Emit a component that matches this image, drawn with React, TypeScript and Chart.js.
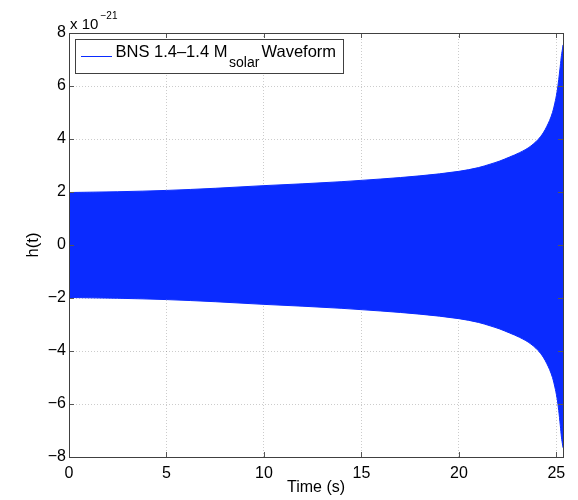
import { useEffect, useRef } from 'react';
import { Chart, registerables } from 'chart.js';

Chart.register(...registerables);

// Envelope of the inspiral strain (units of 1e-21) against time in seconds
const timeS = [0, 2.5, 5, 7.5, 10, 12, 14, 16, 18, 20, 21, 21.6, 22.1, 22.6, 23.1, 23.7, 24.2, 24.5, 24.8, 24.95, 25.05, 25.12, 25.2, 25.26, 25.32, 25.34];
const upperStrain = [1.98, 2.01, 2.06, 2.14, 2.24, 2.31, 2.39, 2.49, 2.61, 2.78, 2.92, 3.05, 3.17, 3.32, 3.48, 3.74, 4.1, 4.46, 5.0, 5.45, 5.85, 6.24, 6.75, 7.15, 7.43, 7.55];
const lowerStrain = [-1.98, -2.01, -2.06, -2.14, -2.24, -2.31, -2.39, -2.49, -2.61, -2.78, -2.92, -3.05, -3.17, -3.32, -3.48, -3.74, -4.1, -4.46, -5.0, -5.45, -5.85, -6.24, -6.8, -7.25, -7.55, -7.65];

const xTicks = [0, 5, 10, 15, 20, 25];
const yTicks = [-8, -6, -4, -2, 0, 2, 4, 6, 8];
const xMax = 25.34;

const WAVE_BLUE = '#0a2bff';
const FONT = '"Liberation Sans", Arial, Helvetica, sans-serif';

const framePlugin = {
  id: 'matlabFrame',
  afterDraw(chart: any) {
    const { ctx, chartArea } = chart;
    const { left, right, top, bottom } = chartArea;
    const xs = chart.scales.x;
    const ys = chart.scales.y;
    ctx.save();

    // inward tick marks on all four sides
    ctx.strokeStyle = '#555';
    ctx.lineWidth = 1;
    ctx.beginPath();
    for (const t of xTicks) {
      const px = Math.round(xs.getPixelForValue(t)) + 0.5;
      ctx.moveTo(px, bottom);
      ctx.lineTo(px, bottom - 5);
      ctx.moveTo(px, top);
      ctx.lineTo(px, top + 5);
    }
    for (const t of yTicks) {
      const py = Math.round(ys.getPixelForValue(t)) + 0.5;
      ctx.moveTo(left, py);
      ctx.lineTo(left + 5, py);
      ctx.moveTo(right, py);
      ctx.lineTo(right - 5, py);
    }
    ctx.stroke();

    // axes box
    ctx.strokeStyle = '#404040';
    ctx.strokeRect(Math.round(left) + 0.5, Math.round(top) + 0.5, Math.round(right - left), Math.round(bottom - top));

    // exponent label
    ctx.fillStyle = '#000';
    ctx.textBaseline = 'alphabetic';
    ctx.textAlign = 'left';
    ctx.font = `15px ${FONT}`;
    ctx.fillText('x 10', 70, 28.5);
    ctx.font = `10px ${FONT}`;
    ctx.fillText('\u221221', 100.5, 18.5);

    // legend
    ctx.fillStyle = '#fff';
    ctx.fillRect(75, 39, 268, 34);
    ctx.strokeStyle = '#404040';
    ctx.strokeRect(75.5, 39.5, 268, 34);
    ctx.strokeStyle = WAVE_BLUE;
    ctx.beginPath();
    ctx.moveTo(81, 56.5);
    ctx.lineTo(112, 56.5);
    ctx.stroke();
    ctx.fillStyle = '#000';
    ctx.font = `16.5px ${FONT}`;
    ctx.fillText('BNS 1.4\u20131.4 M', 115.5, 56.5);
    ctx.fillText('Waveform', 261.5, 56.5);
    ctx.font = `14px ${FONT}`;
    ctx.fillText('solar', 229, 66.5);

    // axis titles
    ctx.font = `16px ${FONT}`;
    ctx.textAlign = 'center';
    ctx.textBaseline = 'middle';
    ctx.fillText('Time (s)', (left + right) / 2, 488);
    ctx.save();
    ctx.translate(33, (top + bottom) / 2);
    ctx.rotate(-Math.PI / 2);
    ctx.font = `16.5px ${FONT}`;
    ctx.fillText('h(t)', 0, 0);
    ctx.restore();

    ctx.restore();
  },
};

export default function App() {
  const canvasRef = useRef<HTMLCanvasElement | null>(null);

  useEffect(() => {
    const canvas = canvasRef.current;
    if (!canvas) return;
    const upper = timeS.map((t, i) => ({ x: t, y: upperStrain[i] }));
    const lower = timeS.map((t, i) => ({ x: t, y: lowerStrain[i] }));
    const gridStyle = {
      color: 'rgba(0,0,0,0.2)',
      drawTicks: false,
      tickLength: 0,
    };
    // in Chart.js 4 the border dash applies to the grid lines
    const borderStyle = { display: true, color: '#404040', width: 1, dash: [1, 2] };
    const chart = new Chart(canvas, {
      type: 'line',
      data: {
        datasets: [
          {
            label: 'upper',
            data: upper,
            borderColor: WAVE_BLUE,
            backgroundColor: WAVE_BLUE,
            borderWidth: 1,
            pointRadius: 0,
            fill: '+1',
            cubicInterpolationMode: 'monotone',
          },
          {
            label: 'lower',
            data: lower,
            borderColor: WAVE_BLUE,
            backgroundColor: WAVE_BLUE,
            borderWidth: 1,
            pointRadius: 0,
            fill: false,
            cubicInterpolationMode: 'monotone',
          },
        ],
      },
      options: {
        responsive: false,
        animation: false,
        devicePixelRatio: 1,
        layout: { padding: { left: 0, right: 15, top: 33, bottom: 0 } },
        plugins: {
          legend: { display: false },
          tooltip: { enabled: false },
        },
        scales: {
          x: {
            type: 'linear',
            min: 0,
            max: xMax,
            afterBuildTicks: (scale: any) => {
              scale.ticks = xTicks.map((v) => ({ value: v }));
            },
            afterFit: (scale: any) => {
              scale.height = 43;
            },
            grid: gridStyle,
            border: borderStyle,
            ticks: {
              padding: 7,
              color: '#000',
              font: { family: FONT, size: 16 },
              maxRotation: 0,
              autoSkip: false,
            },
          },
          y: {
            type: 'linear',
            min: -8,
            max: 8,
            afterBuildTicks: (scale: any) => {
              scale.ticks = yTicks.map((v) => ({ value: v }));
            },
            afterFit: (scale: any) => {
              scale.width = 69;
            },
            grid: gridStyle,
            border: borderStyle,
            ticks: {
              padding: 3,
              color: '#000',
              font: { family: FONT, size: 16 },
              autoSkip: false,
              callback: (v: any) => (v < 0 ? '\u2212' + Math.abs(v) : String(v)),
            },
          },
        },
      },
      plugins: [framePlugin],
    } as any);

    return () => chart.destroy();
  }, []);

  return (
    <div style={{ position: 'absolute', left: 0, top: 0, width: 578, height: 500, background: '#fff' }}>
      <canvas ref={canvasRef} width={578} height={500} style={{ display: 'block' }} />
    </div>
  );
}
